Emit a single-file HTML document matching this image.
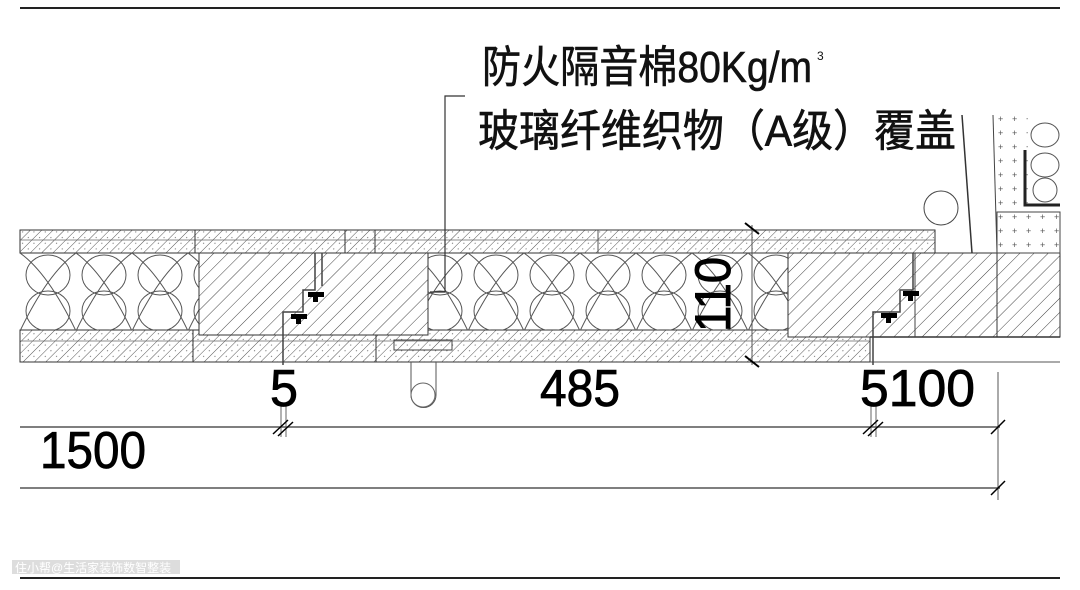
<!DOCTYPE html>
<html><head><meta charset="utf-8"><style>
html,body{margin:0;padding:0;background:#fff;width:1080px;height:590px;overflow:hidden}
</style></head><body>
<svg width="1080" height="590" viewBox="0 0 1080 590" xmlns="http://www.w3.org/2000/svg">
<defs>
<pattern id="h1" width="8" height="8" patternUnits="userSpaceOnUse" patternTransform="rotate(45)">
<rect width="8" height="8" fill="#fff"/><line x1="0" y1="0" x2="0" y2="8" stroke="#555" stroke-width="1"/>
<circle cx="4" cy="4" r="0.6" fill="#777"/></pattern>
<pattern id="h2" width="10" height="10" patternUnits="userSpaceOnUse" patternTransform="rotate(45)">
<rect width="10" height="10" fill="#fff"/><line x1="0" y1="0" x2="0" y2="10" stroke="#444" stroke-width="1"/></pattern>
<pattern id="dots" width="14" height="14" patternUnits="userSpaceOnUse">
<rect width="14" height="14" fill="#fff"/><text x="4" y="10" font-size="9" fill="#555" font-family="Liberation Sans">+</text></pattern>
<pattern id="wool" width="56" height="78" patternUnits="userSpaceOnUse" x="20" y="253">
<path d="M0,0 Q28,20 56,78 M56,0 Q28,20 0,78" fill="none" stroke="#555" stroke-width="1"/>
<ellipse cx="28" cy="22" rx="22" ry="20" fill="none" stroke="#555"/><ellipse cx="28" cy="58" rx="22" ry="20" fill="none" stroke="#555"/></pattern>
</defs>
<line x1="20" y1="8" x2="1060" y2="8" stroke="#222" stroke-width="2"/>
<line x1="20" y1="578" x2="1060" y2="578" stroke="#222" stroke-width="2"/>

<rect x="20" y="230" width="915" height="23" fill="url(#h1)" stroke="#333"/>
<line x1="20" y1="240" x2="935" y2="240" stroke="#666" stroke-width="0.7"/>
<rect x="20" y="330" width="850" height="32" fill="url(#h1)" stroke="#333"/>
<line x1="20" y1="341" x2="870" y2="341" stroke="#666" stroke-width="0.7"/>
<line x1="195" y1="230" x2="195" y2="253" stroke="#333"/><line x1="345" y1="230" x2="345" y2="253" stroke="#333"/>
<line x1="193" y1="330" x2="193" y2="362" stroke="#333"/><line x1="376" y1="330" x2="376" y2="362" stroke="#333"/>
<line x1="375" y1="230" x2="375" y2="253" stroke="#333"/><line x1="598" y1="230" x2="598" y2="253" stroke="#555"/>
<rect x="20" y="253" width="179" height="77" fill="url(#wool)"/>
<rect x="428" y="253" width="360" height="77" fill="url(#wool)"/>
<rect x="199" y="253" width="229" height="82" fill="url(#h2)" stroke="#333"/>
<rect x="788" y="253" width="209" height="84" fill="url(#h2)" stroke="#333"/>
<rect x="997" y="253" width="63" height="84" fill="url(#h2)" stroke="#333"/>
<line x1="870" y1="337" x2="1060" y2="337" stroke="#333" stroke-width="1.5"/>
<line x1="870" y1="362" x2="1060" y2="362" stroke="#555"/>
<line x1="915" y1="253" x2="915" y2="337" stroke="#444"/>
<path d="M315,253 V290 H303 V312 H283 V365 M322,253 V286" fill="none" stroke="#444" stroke-width="1.5"/>
<rect x="308" y="292" width="16" height="5" fill="#000"/><rect x="313" y="292" width="5" height="10" fill="#000"/>
<rect x="291" y="314" width="16" height="5" fill="#000"/><rect x="296" y="314" width="5" height="10" fill="#000"/>
<path d="M913,253 V290 H900 V312 H873 V365" fill="none" stroke="#444" stroke-width="1.5"/>
<rect x="903" y="291" width="16" height="5" fill="#000"/><rect x="908" y="291" width="5" height="10" fill="#000"/>
<rect x="881" y="313" width="16" height="5" fill="#000"/><rect x="886" y="313" width="5" height="10" fill="#000"/>
<path d="M394,340 H452 V350 H394 Z" fill="none" stroke="#444"/>
<path d="M411,362 V395 A12.5,12.5 0 0 0 436,395 V362" fill="none" stroke="#555"/>
<circle cx="423" cy="395" r="12" fill="none" stroke="#666"/>
<circle cx="941" cy="208" r="17" fill="none" stroke="#444"/>
<line x1="962" y1="115" x2="972" y2="253" stroke="#333" stroke-width="1.5"/>
<rect x="993" y="115" width="35" height="100" fill="url(#dots)"/>
<line x1="993" y1="115" x2="997" y2="253" stroke="#444"/>
<rect x="997" y="212" width="63" height="41" fill="url(#dots)" stroke="#444"/>
<path d="M1025,150 V205 H1060" fill="none" stroke="#222" stroke-width="3"/>
<ellipse cx="1045" cy="135" rx="14" ry="12" fill="none" stroke="#555"/>
<ellipse cx="1045" cy="165" rx="14" ry="12" fill="none" stroke="#555"/>
<ellipse cx="1045" cy="190" rx="12" ry="12" fill="none" stroke="#555"/>
<path d="M465,96 H445 V292 H430" fill="none" stroke="#333" stroke-width="1.2"/>
<line x1="752" y1="225" x2="752" y2="365" stroke="#555"/>
<line x1="745" y1="223" x2="759" y2="234" stroke="#000" stroke-width="2"/>
<line x1="745" y1="356" x2="759" y2="367" stroke="#000" stroke-width="2"/>
<text transform="translate(730,332) rotate(-90)" font-family="Liberation Sans, sans-serif" font-size="50" fill="#000" stroke="#000" stroke-width="1" textLength="75" lengthAdjust="spacingAndGlyphs">110</text>
<line x1="20" y1="427" x2="1000" y2="427" stroke="#555" stroke-width="1.5"/>
<line x1="20" y1="488" x2="1000" y2="488" stroke="#555" stroke-width="1.5"/>
<line x1="281" y1="405" x2="281" y2="437" stroke="#666"/><line x1="286" y1="405" x2="286" y2="437" stroke="#666"/>
<path d="M273,434 L288,420 M278,436 L293,422" stroke="#000" stroke-width="1.5"/>
<line x1="871" y1="405" x2="871" y2="437" stroke="#666"/><line x1="876" y1="405" x2="876" y2="437" stroke="#666"/>
<path d="M863,434 L878,420 M868,436 L883,422" stroke="#000" stroke-width="1.5"/>
<line x1="998" y1="372" x2="998" y2="500" stroke="#555"/>
<path d="M991,434 L1005,420 M991,495 L1005,481" stroke="#000" stroke-width="1.5"/>
<g font-family="Liberation Sans, sans-serif" font-size="52" fill="#000" stroke="#000" stroke-width="0.8">
<text x="270" y="406" textLength="28" lengthAdjust="spacingAndGlyphs">5</text>
<text x="540" y="406" textLength="80" lengthAdjust="spacingAndGlyphs">485</text>
<text x="860" y="406" textLength="115" lengthAdjust="spacingAndGlyphs">5100</text>
<text x="40" y="468" textLength="106" lengthAdjust="spacingAndGlyphs">1500</text>
</g>
<g font-family="Liberation Sans, 'Noto Sans CJK SC', sans-serif" font-size="44" fill="#111" stroke="#111" stroke-width="0.6">
<text x="482" y="82" textLength="330" lengthAdjust="spacingAndGlyphs">防火隔音棉80Kg/m</text>
<text x="817" y="60" font-size="12" stroke-width="0">3</text>
<text x="478" y="146" textLength="478" lengthAdjust="spacingAndGlyphs">玻璃纤维织物（A级）覆盖</text>
</g>
<rect x="12" y="560" width="168" height="14" fill="#ddd"/>
<text x="15" y="572" font-family="Liberation Sans, 'Noto Sans CJK SC', sans-serif" font-size="12" fill="#fff">住小帮@生活家装饰数智整装</text>
</svg>
</body></html>
